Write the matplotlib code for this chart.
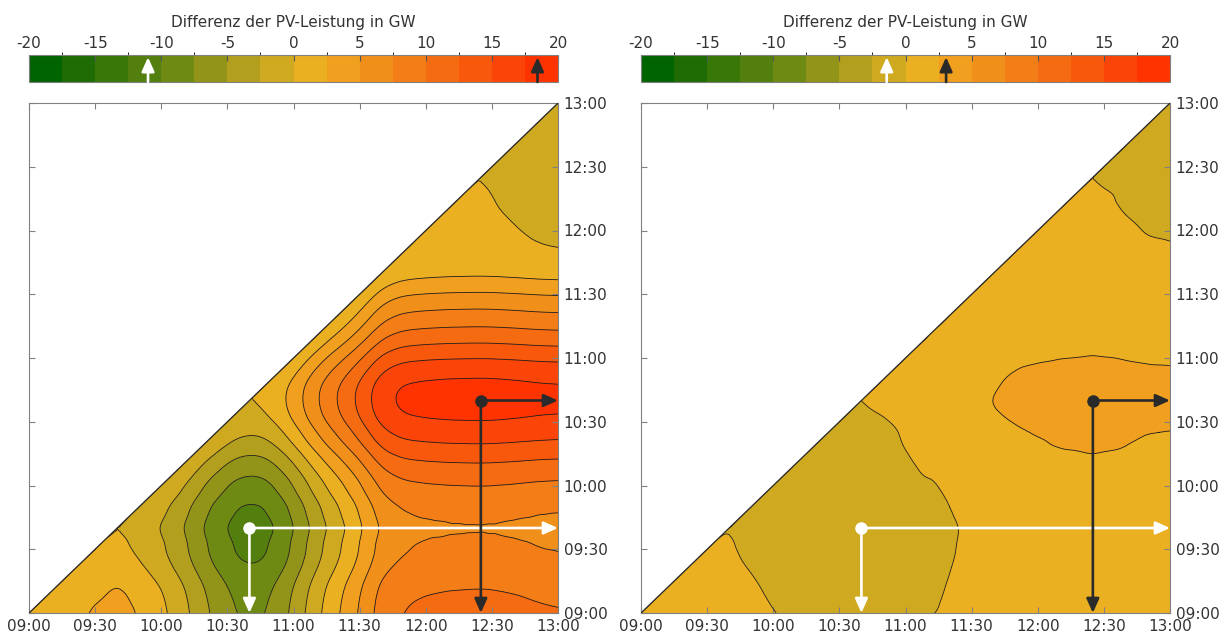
import numpy as np
import matplotlib
matplotlib.use("Agg")
import matplotlib.pyplot as plt
import matplotlib.tri as mtri
from matplotlib.colors import ListedColormap, BoundaryNorm
from matplotlib.patches import Polygon
from matplotlib.cm import ScalarMappable

plt.rcParams['font.family'] = ['DejaVu Sans']
plt.rcParams['axes.unicode_minus'] = False

# ---------------- data ----------------
# time axis, 5-minute steps from 09:00 to 13:00 (hours)
hours = 9 + np.arange(0, 241, 5) / 60.0

# PV power relative to 09:00 (GW) (left / right)
pv_left = [0.0, 0.2, 0.5, 1.0, 1.7, 2.3, 2.65, 2.9, 3.15, 2.8,
           2.3, 1.45, 0.55, -0.5, -1.75, -3.1, -4.5, -5.7, -6.8, -7.55,
           -7.85, -7.7, -7.0, -5.8, -4.3, -2.6, -0.9, 0.7, 2.2, 3.7,
           5.3, 7.0, 8.5, 9.45, 9.98, 10.22, 10.36, 10.45, 10.52, 10.56,
           10.59, 10.6, 10.57, 10.5, 10.42, 10.32, 10.22, 10.15, 10.1]
pv_right = [0.0, 0.08, 0.17, 0.27, 0.38, 0.48, 0.55, 0.6, 0.62, 0.5,
            0.35, 0.18, 0.03, -0.07, -0.16, -0.23, -0.28, -0.32, -0.45, -0.68,
            -0.8, -0.7, -0.55, -0.37, -0.25, -0.14, -0.04, 0.05, 0.35, 0.7,
            1.1, 1.45, 1.72, 1.95, 2.1, 2.17, 2.2, 2.22, 2.24, 2.25,
            2.26, 2.27, 2.26, 2.25, 2.23, 2.21, 2.19, 2.18, 2.17]

level_values = np.arange(-20, 20.01, 2.5)
level_colors = ['#006400', '#1f6c05', '#387808', '#527f0e', '#6e8a13', '#919419',
                '#b39f1e', '#cfa920', '#ebb021', '#f0a01e', '#f08f1a', '#f37d16',
                '#f56b11', '#f8580c', '#fb4508', '#ff3300']
cbar_ticks = [-20, -15, -10, -5, 0, 5, 10, 15, 20]
time_ticks = [9.0, 9.5, 10.0, 10.5, 11.0, 11.5, 12.0, 12.5, 13.0]
time_labels = ['09:00', '09:30', '10:00', '10:30', '11:00', '11:30', '12:00', '12:30', '13:00']
cbar_title = 'Differenz der PV-Leistung in GW'

# ---------------- figure ----------------
cmap = ListedColormap(level_colors)
norm = BoundaryNorm(level_values, cmap.N)

W, H = 1230, 637
fig = plt.figure(figsize=(W / 100, H / 100), dpi=100)

def fx(px):
    return px / W

def fy(py_top, py_bot):
    return (H - py_bot) / H, (py_bot - py_top) / H

panels = [(29, pv_left), (641, pv_right)]
TXT = '#333333'
SPINE = '#808080'


def draw_arrow(ax, x0, y0, x1, y1, color, lw=1.9):
    ax.annotate('', xy=(x1, y1), xytext=(x0, y0),
                arrowprops=dict(arrowstyle='-|>,head_length=0.85,head_width=0.38',
                                color=color, lw=lw, shrinkA=0, shrinkB=0,
                                mutation_scale=10),
                zorder=10, annotation_clip=False)


X, Y = np.meshgrid(hours, hours)
triang = mtri.Triangulation(X.ravel(), Y.ravel())
refiner = mtri.UniformTriRefiner(triang)

for left_px, pv in panels:
    pv = np.asarray(pv)
    b, h = fy(103, 613)
    ax = fig.add_axes([fx(left_px), b, fx(529), h])
    cb_b, cb_h = fy(55, 82)
    cax = fig.add_axes([fx(left_px), cb_b, fx(529), cb_h])

    Z = pv[None, :] - pv[:, None]
    tri_f, z_f = refiner.refine_field(Z.ravel(), subdiv=2)

    cs = ax.tricontourf(tri_f, z_f, levels=level_values, cmap=cmap, norm=norm)
    cl = ax.tricontour(tri_f, z_f, levels=level_values, colors='#1e1e1e',
                       linewidths=0.6, linestyles='solid')
    tri = Polygon([(9, 9), (13, 9), (13, 13)], closed=True, facecolor='none',
                  edgecolor='none', transform=ax.transData)
    ax.add_patch(tri)
    cs.set_clip_path(tri)
    cl.set_clip_path(tri)
    ax.plot([9, 13], [9, 13], color='#2a2a2a', lw=0.9, zorder=5)

    ax.set_xlim(9, 13)
    ax.set_ylim(9, 13)
    ax.set_xticks(time_ticks)
    ax.set_xticklabels(time_labels)
    ax.set_yticks(time_ticks)
    ax.set_yticklabels(time_labels)
    ax.tick_params(axis='both', direction='in', top=True, bottom=True, left=True,
                   right=True, labelleft=False, labelright=True, labelsize=11,
                   length=4, width=0.8, color=SPINE, labelcolor=TXT, pad=4)
    for s in ax.spines.values():
        s.set_color(SPINE)
        s.set_linewidth(0.8)

    # extreme points (lower triangle)
    mask = Y <= X + 1e-9
    Zm = np.where(mask, Z, np.nan)
    iy, ix = np.unravel_index(np.nanargmin(Zm), Z.shape)
    jy, jx = np.unravel_index(np.nanargmax(Zm), Z.shape)
    zmin, zmax = Z[iy, ix], Z[jy, jx]

    for (py, px), col in [((iy, ix), 'white'), ((jy, jx), '#2a2a2a')]:
        x0, y0 = hours[px], hours[py]
        draw_arrow(ax, x0, y0, 13.0, y0, col)
        draw_arrow(ax, x0, y0, x0, 9.0, col)
        ax.plot([x0], [y0], 'o', color=col, ms=8, zorder=11)

    # colorbar
    sm = ScalarMappable(norm=norm, cmap=cmap)
    cb = fig.colorbar(sm, cax=cax, orientation='horizontal', ticks=cbar_ticks,
                      ticklocation='top')
    cax.set_xticklabels([str(t) for t in cbar_ticks])
    cax.tick_params(direction='in', length=4, width=0.8, color='#555555',
                    labelsize=11, labelcolor=TXT, pad=3)
    cb.outline.set_edgecolor(SPINE)
    cb.outline.set_linewidth(0.8)
    cb.set_label(cbar_title, fontsize=11, color=TXT, labelpad=6)
    for val, col in [(zmin, 'white'), (zmax, '#2a2a2a')]:
        cax.annotate('', xy=(val, 0.92), xytext=(val, 0.0),
                     xycoords='data', textcoords='data',
                     arrowprops=dict(arrowstyle='-|>,head_length=0.85,head_width=0.38',
                                     color=col, lw=1.9, shrinkA=0, shrinkB=0,
                                     mutation_scale=10),
                     zorder=10, annotation_clip=False)

fig.savefig('out.png', dpi=100)
